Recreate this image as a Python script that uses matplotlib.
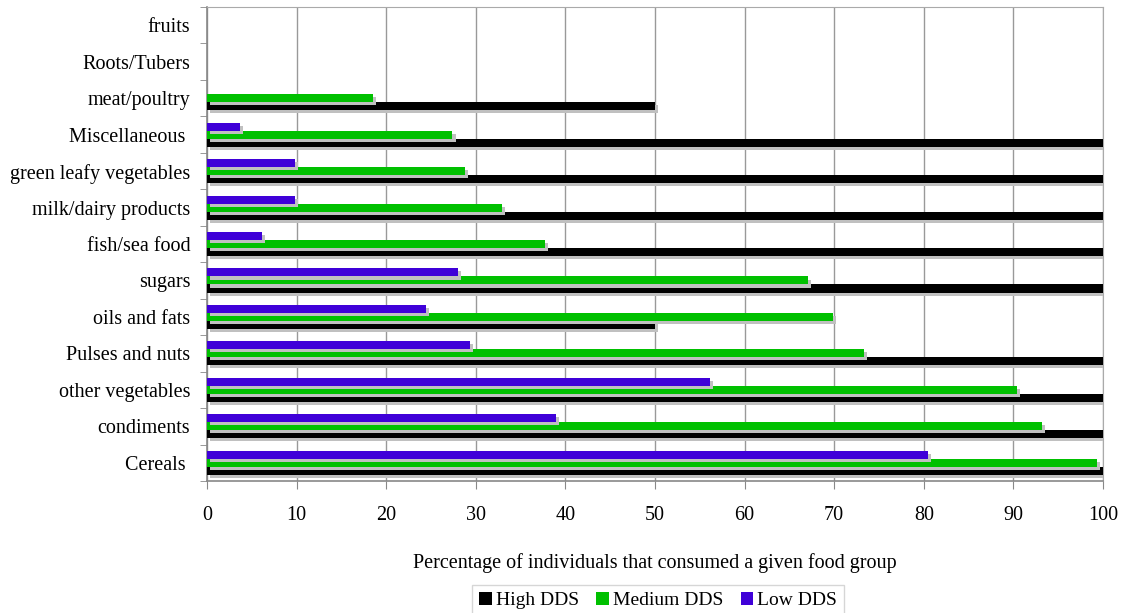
import matplotlib.pyplot as plt
import matplotlib.patheffects as pe
from matplotlib.patches import Patch
import numpy as np

plt.rcParams['font.family'] = ['Liberation Serif', 'DejaVu Serif']

# food groups, bottom to top
categories = ['Cereals ', 'condiments', 'other vegetables', 'Pulses and nuts',
              'oils and fats', 'sugars', 'fish/sea food', 'milk/dairy products',
              'green leafy vegetables', 'Miscellaneous ', 'meat/poultry',
              'Roots/Tubers', 'fruits']

high_dds = [100, 100, 100, 100, 50, 100, 100, 100, 100, 100, 50, 0, 0]
medium_dds = [99.3, 93.2, 90.4, 73.3, 69.9, 67.1, 37.7, 32.9, 28.8, 27.4, 18.5, 0, 0]
low_dds = [80.5, 39.0, 56.1, 29.3, 24.4, 28.0, 6.1, 9.8, 9.8, 3.7, 0, 0, 0]

series = [
    ('High DDS', high_dds, '#000000'),
    ('Medium DDS', medium_dds, '#00c000'),
    ('Low DDS', low_dds, '#3f00d8'),
]

fs = 14.5

fig = plt.figure(figsize=(11.25, 6.13), dpi=100)
ax = fig.add_axes([0.184, 0.2153, 0.7964, 0.7733])

y = np.arange(len(categories))
h = 0.22
shadow = [pe.SimplePatchShadow(offset=(2.2, -2.2), shadow_rgbFace='#c0c0c0', alpha=1.0),
          pe.Normal()]

for i, (name, vals, color) in enumerate(series):
    ax.barh(y + (i - 1) * h, vals, height=h, color=color, edgecolor='none',
            zorder=3, path_effects=shadow)

ax.set_xlim(0, 100)
ax.set_ylim(-0.5, len(categories) - 0.5)
ax.set_xticks(np.arange(0, 101, 10))
ax.set_yticks(y)
ax.set_yticklabels(categories)
ax.set_yticks(np.arange(-0.5, len(categories), 1), minor=True)
ax.tick_params(axis='y', which='major', length=0, pad=12, labelsize=fs)
ax.tick_params(axis='y', which='minor', length=5, color='#888888', direction='out')
ax.tick_params(axis='x', length=6, color='#888888', direction='out', labelsize=fs, pad=12)

ax.grid(axis='x', color='#999999', linewidth=1)
ax.set_axisbelow(True)
for side in ['top', 'right']:
    ax.spines[side].set_color('#aaaaaa')
for side in ['left', 'bottom']:
    ax.spines[side].set_color('#888888')
    ax.spines[side].set_linewidth(1.2)

ax.set_xlabel('Percentage of individuals that consumed a given food group',
              fontsize=fs, labelpad=20)

handles = [Patch(facecolor=c, edgecolor='none') for _, _, c in series]
labels = [n for n, _, _ in series]
fig.legend(handles, labels, loc='center', bbox_to_anchor=(0.585, 0.02), ncol=3,
           frameon=True, fancybox=False, edgecolor='#cccccc', fontsize=14,
           handlelength=0.65, handleheight=0.65, handletextpad=0.2, columnspacing=0.9,
           borderpad=0.35)

fig.savefig('out.png', dpi=100, facecolor='white')
